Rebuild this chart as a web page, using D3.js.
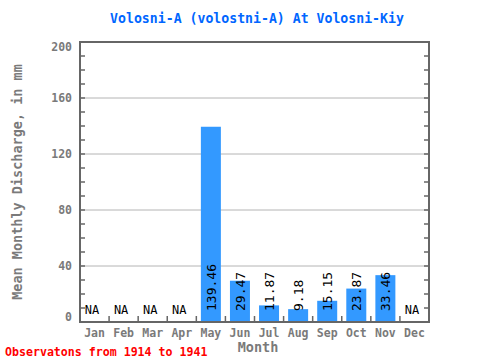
<!DOCTYPE html>
<html>
<head>
<meta charset="utf-8">
<script src="https://cdn.jsdelivr.net/npm/d3@7"></script>
<style>
  body { margin: 0; background: #fff; }
  svg { display: block; font-family: "DejaVu Sans Mono", "Liberation Mono", monospace; }
</style>
</head>
<body>
<svg id="chart"></svg>
<script>
// monthly values, null = no data
var months = ["Jan", "Feb", "Mar", "Apr", "May", "Jun", "Jul", "Aug", "Sep", "Oct", "Nov", "Dec"];
var discharge = [null, null, null, null, 139.46, 29.47, 11.87, 9.18, 15.15, 23.87, 33.46, null];
var yTicks = [0, 40, 80, 120, 160, 200];

var width = 480, height = 360;
var margin = {top: 42, right: 51, bottom: 38, left: 80};

var svg = d3.select("#chart").attr("width", width).attr("height", height);

var x = d3.scaleBand()
    .domain(months)
    .range([margin.left, width - margin.right]);

var y = d3.scaleLinear()
    .domain([0, 200])
    .range([height - margin.bottom, margin.top]);

var data = months.map(function(m, i) { return {month: m, value: discharge[i]}; });

// grid lines
svg.append("g")
    .selectAll("line")
    .data(yTicks.filter(function(d) { return d > 0 && d < 200; }))
    .enter().append("line")
    .attr("x1", margin.left).attr("x2", width - margin.right)
    .attr("y1", function(d) { return y(d); })
    .attr("y2", function(d) { return y(d); })
    .style("stroke", "#b4b4b4")
    .style("stroke-width", 1);

// bars
svg.append("g")
    .selectAll("rect")
    .data(data.filter(function(d) { return d.value !== null; }))
    .enter().append("rect")
    .attr("x", function(d) { return x(d.month) + x.bandwidth() / 2 - 10; })
    .attr("width", 20)
    .attr("y", function(d) { return y(d.value); })
    .attr("height", function(d) { return y(0) - y(d.value); })
    .style("fill", "#3399ff");

// value labels, rotated
svg.append("g")
    .selectAll("text")
    .data(data.filter(function(d) { return d.value !== null; }))
    .enter().append("text")
    .attr("transform", function(d) {
        return "translate(" + (x(d.month) + x.bandwidth() / 2 + 5) + "," + (y(0) - 11) + ") rotate(-90)";
    })
    .style("font-size", "13px")
    .style("fill", "#000")
    .text(function(d) { return d.value.toFixed(2); });

// NA labels
svg.append("g")
    .selectAll("text")
    .data(data.filter(function(d) { return d.value === null; }))
    .enter().append("text")
    .attr("x", function(d) { return x(d.month) + x.bandwidth() / 2 - 2.5; })
    .attr("y", y(0) - 8)
    .attr("text-anchor", "middle")
    .style("font-size", "12px")
    .style("fill", "#000")
    .text("NA");

// ticks on left and right (inside), every 10
var minor = d3.range(0, 201, 10);
var axisColor = "#666666";
[margin.left, width - margin.right].forEach(function(xp, side) {
    svg.append("g")
        .selectAll("line")
        .data(minor)
        .enter().append("line")
        .attr("x1", xp)
        .attr("x2", side === 0 ? xp + 5 : xp - 5)
        .attr("y1", function(d) { return y(d); })
        .attr("y2", function(d) { return y(d); })
        .style("stroke", axisColor)
        .style("stroke-width", 1.5);
});

// month boundary ticks on bottom
svg.append("g")
    .selectAll("line")
    .data(months.slice(1))
    .enter().append("line")
    .attr("x1", function(d) { return x(d); })
    .attr("x2", function(d) { return x(d); })
    .attr("y1", y(0))
    .attr("y2", y(0) - 6)
    .style("stroke", axisColor)
    .style("stroke-width", 1.5);

// frame
svg.append("rect")
    .attr("x", margin.left).attr("y", margin.top)
    .attr("width", width - margin.left - margin.right)
    .attr("height", height - margin.top - margin.bottom)
    .style("fill", "none")
    .style("stroke", axisColor)
    .style("stroke-width", 2);

// y tick labels
svg.append("g")
    .selectAll("text")
    .data(yTicks)
    .enter().append("text")
    .attr("x", margin.left - 8)
    .attr("y", function(d) { return Math.min(Math.max(y(d), margin.top + 5), y(0) - 5); })
    .attr("dy", "0.35em")
    .attr("text-anchor", "end")
    .style("font-size", "11.5px")
    .style("font-weight", "bold")
    .style("fill", "#7a7a7a")
    .text(function(d) { return d; });

// month labels
svg.append("g")
    .selectAll("text")
    .data(months)
    .enter().append("text")
    .attr("x", function(d) { return x(d) + x.bandwidth() / 2; })
    .attr("y", 337)
    .attr("text-anchor", "middle")
    .style("font-size", "11.5px")
    .style("font-weight", "bold")
    .style("fill", "#7a7a7a")
    .text(function(d) { return d; });

// title
svg.append("text")
    .attr("x", 257).attr("y", 23)
    .attr("text-anchor", "middle")
    .style("font-size", "13.2px")
    .style("font-weight", "bold")
    .style("fill", "#0066ff")
    .text("Volosni-A (volostni-A) At Volosni-Kiy");

// axis titles
svg.append("text")
    .attr("x", 258).attr("y", 352)
    .attr("text-anchor", "middle")
    .style("font-size", "13.5px")
    .style("font-weight", "bold")
    .style("fill", "#7a7a7a")
    .text("Month");

svg.append("text")
    .attr("transform", "translate(22," + ((margin.top + height - margin.bottom) / 2) + ") rotate(-90)")
    .attr("text-anchor", "middle")
    .style("font-size", "13.5px")
    .style("font-weight", "bold")
    .style("fill", "#7a7a7a")
    .text("Mean Monthly Discharge, in mm");

// observations note
svg.append("text")
    .attr("x", 5).attr("y", 356)
    .style("font-size", "11.6px")
    .style("font-weight", "bold")
    .style("fill", "#ff0000")
    .text("Observatons from 1914 to 1941");
</script>
</body>
</html>
